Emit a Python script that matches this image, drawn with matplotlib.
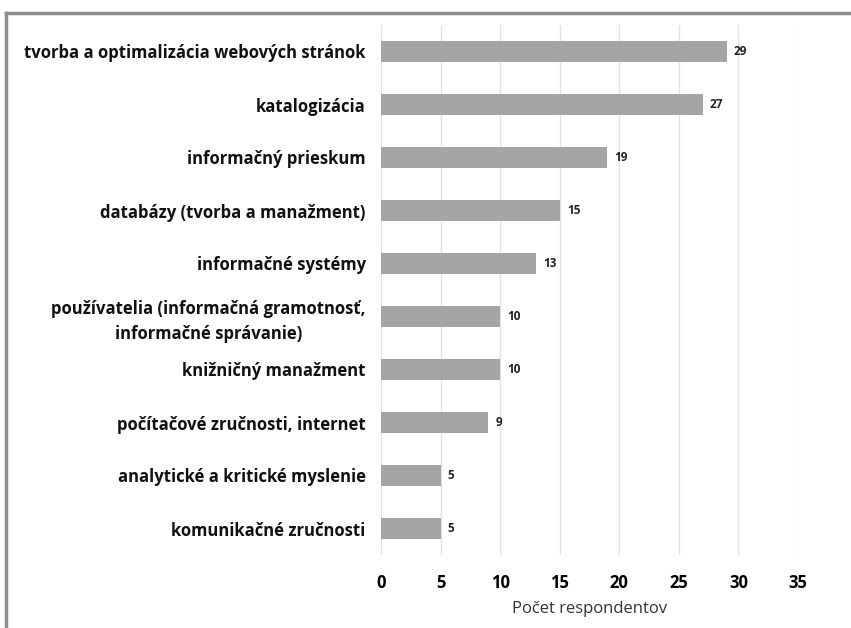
import matplotlib.pyplot as plt
from matplotlib.lines import Line2D

# data (top to bottom as shown)
categories = [
    "tvorba a optimalizácia webových stránok",
    "katalogizácia",
    "informačný prieskum",
    "databázy (tvorba a manažment)",
    "informačné systémy",
    "používatelia (informačná gramotnosť,\ninformačné správanie)",
    "knižničný manažment",
    "počítačové zručnosti, internet",
    "analytické a kritické myslenie",
    "komunikačné zručnosti",
]
counts = [29, 27, 19, 15, 13, 10, 10, 9, 5, 5]
xticks = [0, 5, 10, 15, 20, 25, 30, 35]

plt.rcParams['font.family'] = ['Open Sans', 'DejaVu Sans']

fig = plt.figure(figsize=(8.51, 6.28), dpi=100)
ax = fig.add_axes([381 / 851, 1 - 555 / 628, (798 - 381) / 851, (555 - 25) / 628])

ypos = list(range(len(categories)))[::-1]
ax.barh(ypos, counts, height=0.38, color='#a5a5a5', zorder=3)
for y, v in zip(ypos, counts):
    ax.text(v + 0.6, y, str(v), va='center', ha='left', fontsize=8.5,
            fontweight='bold', color='#222222')

ax.set_xlim(0, 35)
ax.set_ylim(-0.5, len(categories) - 0.5)
ax.set_xticks(xticks)
ax.set_xticklabels([str(t) for t in xticks], fontsize=12, fontweight='bold')
ax.set_yticks(ypos)
ax.set_yticklabels(categories, fontsize=12, fontweight='bold', ha='right',
                   multialignment='center', linespacing=1.45, color='#111111')
ax.tick_params(axis='y', length=0, pad=11)
ax.tick_params(axis='x', length=0, pad=14)
ax.grid(axis='x', color='#e3e3e3', linewidth=1, zorder=0)
for s in ax.spines.values():
    s.set_visible(False)
ax.set_xlabel("Počet respondentov", fontsize=12, color='#333333', labelpad=6)

# outer frame (top and left edges)
fig.add_artist(Line2D([6 / 851, 1], [1 - 13 / 628, 1 - 13 / 628], color='#8c8c8c',
                      linewidth=2.5, transform=fig.transFigure))
fig.add_artist(Line2D([6 / 851, 6 / 851], [0, 1 - 13 / 628], color='#8c8c8c',
                      linewidth=2.5, transform=fig.transFigure))

fig.savefig("out.png", dpi=100, facecolor='white')
